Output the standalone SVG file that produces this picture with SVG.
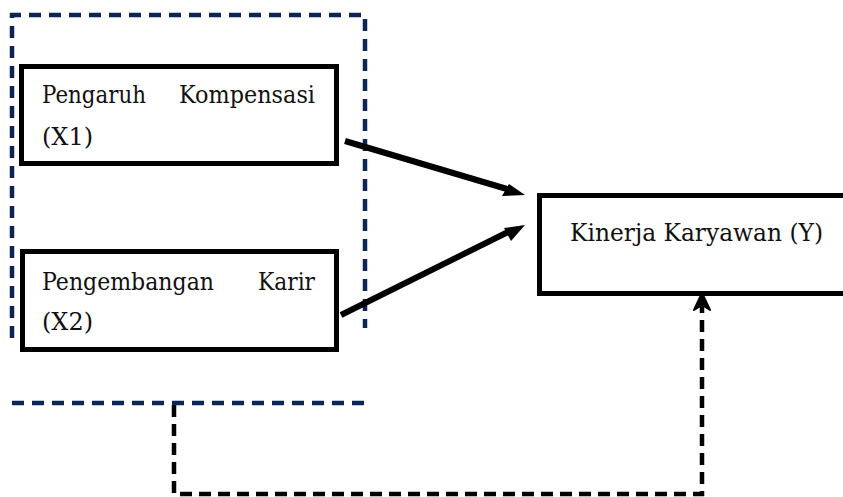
<svg xmlns="http://www.w3.org/2000/svg" width="843" height="497" viewBox="0 0 843 497">
<defs>
<style>
.box{fill:#fff;stroke:#000;stroke-width:5}
.blue{fill:none;stroke:#0d2456;stroke-width:4.5;stroke-dasharray:12 8}
.bd{fill:none;stroke:#000;stroke-width:4.5;stroke-dasharray:12 7}
.arr{stroke:#000;stroke-width:6;fill:none}
</style>
</defs>
<rect width="843" height="497" fill="#fff"/>
<g id="group-frame">
<path class="blue" d="M12,338 V15 H365 V328"/>
<path class="blue" d="M12,403 H365"/>
</g>
<g font-family="DejaVu Serif, Noto Serif, Liberation Serif, serif" font-size="24" fill="#111">
<g id="node-x1">
<rect class="box" x="21.5" y="66.5" width="315" height="97"/>
<text x="42" y="103" textLength="104" lengthAdjust="spacingAndGlyphs">Pengaruh</text>
<text x="315" y="103" text-anchor="end" textLength="136" lengthAdjust="spacingAndGlyphs">Kompensasi</text>
<text x="42" y="145" textLength="51" lengthAdjust="spacingAndGlyphs">(X1)</text>
</g>
<g id="node-x2">
<rect class="box" x="22.5" y="251.5" width="314" height="98"/>
<text x="42" y="290" textLength="172" lengthAdjust="spacingAndGlyphs">Pengembangan</text>
<text x="315" y="290" text-anchor="end" textLength="57" lengthAdjust="spacingAndGlyphs">Karir</text>
<text x="42" y="330" textLength="51" lengthAdjust="spacingAndGlyphs">(X2)</text>
</g>
<g id="node-y">
<rect class="box" x="539.5" y="195.5" width="320" height="98"/>
<text x="570" y="241" textLength="253" lengthAdjust="spacingAndGlyphs">Kinerja Karyawan (Y)</text>
</g>
</g>
<g id="connectors">
<line class="arr" x1="345" y1="141" x2="507" y2="189"/>
<path d="M525,195 L502,196 L509,184 Z" fill="#000"/>
<line class="arr" x1="341" y1="315" x2="508" y2="232"/>
<path d="M525,225 L511,241 L504,228 Z" fill="#000"/>
<path class="bd" d="M174,405 V494 H702 V305"/>
<path d="M702,293 L710,310 L702,305 L694,310 Z" fill="#000" stroke="#000" stroke-width="2" stroke-linejoin="round"/>
</g>
</svg>
